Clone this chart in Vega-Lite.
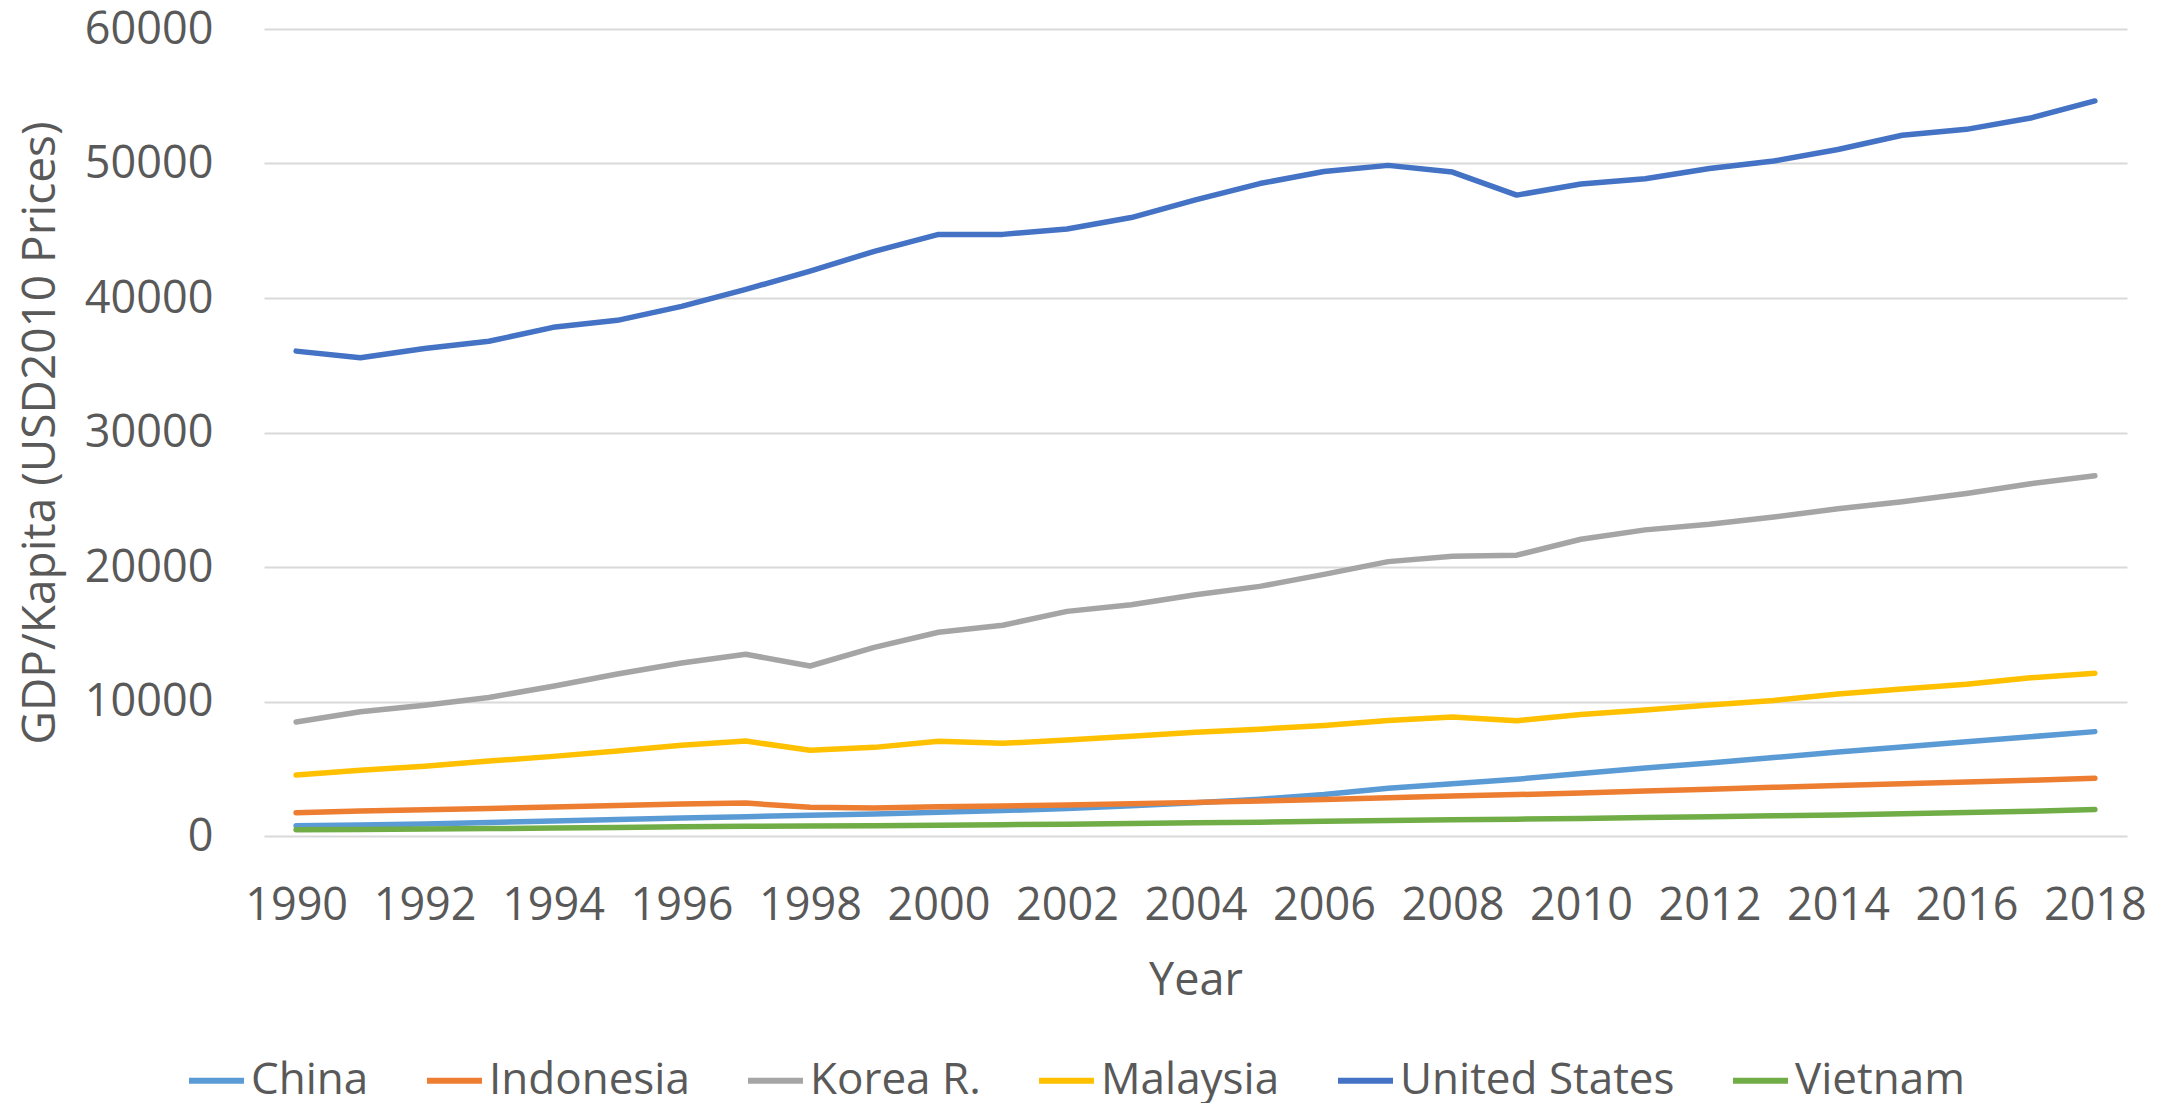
{
  "$schema": "https://vega.github.io/schema/vega-lite/v6.json",
  "width": 1863,
  "height": 807,
  "autosize": {"type": "none"},
  "padding": {"left": 264, "top": 29, "right": 46, "bottom": 267},
  "background": "white",
  "config": {"view": {"stroke": null}, "font": "Open Sans"},
  "data": {"values": [
    {"Country":"China","Year":1990,"GDP":760},{"Country":"China","Year":1991,"GDP":810},{"Country":"China","Year":1992,"GDP":900},{"Country":"China","Year":1993,"GDP":1010},{"Country":"China","Year":1994,"GDP":1110},{"Country":"China","Year":1995,"GDP":1230},{"Country":"China","Year":1996,"GDP":1330},{"Country":"China","Year":1997,"GDP":1440},{"Country":"China","Year":1998,"GDP":1540},{"Country":"China","Year":1999,"GDP":1640},{"Country":"China","Year":2000,"GDP":1760},{"Country":"China","Year":2001,"GDP":1890},{"Country":"China","Year":2002,"GDP":2050},{"Country":"China","Year":2003,"GDP":2240},{"Country":"China","Year":2004,"GDP":2480},{"Country":"China","Year":2005,"GDP":2740},{"Country":"China","Year":2006,"GDP":3080},{"Country":"China","Year":2007,"GDP":3550},{"Country":"China","Year":2008,"GDP":3880},{"Country":"China","Year":2009,"GDP":4220},{"Country":"China","Year":2010,"GDP":4640},{"Country":"China","Year":2011,"GDP":5060},{"Country":"China","Year":2012,"GDP":5430},{"Country":"China","Year":2013,"GDP":5830},{"Country":"China","Year":2014,"GDP":6240},{"Country":"China","Year":2015,"GDP":6620},{"Country":"China","Year":2016,"GDP":7000},{"Country":"China","Year":2017,"GDP":7380},{"Country":"China","Year":2018,"GDP":7760},
    {"Country":"Indonesia","Year":1990,"GDP":1735},{"Country":"Indonesia","Year":1991,"GDP":1850},{"Country":"Indonesia","Year":1992,"GDP":1950},{"Country":"Indonesia","Year":1993,"GDP":2050},{"Country":"Indonesia","Year":1994,"GDP":2160},{"Country":"Indonesia","Year":1995,"GDP":2270},{"Country":"Indonesia","Year":1996,"GDP":2380},{"Country":"Indonesia","Year":1997,"GDP":2450},{"Country":"Indonesia","Year":1998,"GDP":2130},{"Country":"Indonesia","Year":1999,"GDP":2090},{"Country":"Indonesia","Year":2000,"GDP":2170},{"Country":"Indonesia","Year":2001,"GDP":2230},{"Country":"Indonesia","Year":2002,"GDP":2300},{"Country":"Indonesia","Year":2003,"GDP":2400},{"Country":"Indonesia","Year":2004,"GDP":2500},{"Country":"Indonesia","Year":2005,"GDP":2600},{"Country":"Indonesia","Year":2006,"GDP":2720},{"Country":"Indonesia","Year":2007,"GDP":2850},{"Country":"Indonesia","Year":2008,"GDP":2980},{"Country":"Indonesia","Year":2009,"GDP":3080},{"Country":"Indonesia","Year":2010,"GDP":3200},{"Country":"Indonesia","Year":2011,"GDP":3340},{"Country":"Indonesia","Year":2012,"GDP":3480},{"Country":"Indonesia","Year":2013,"GDP":3620},{"Country":"Indonesia","Year":2014,"GDP":3750},{"Country":"Indonesia","Year":2015,"GDP":3880},{"Country":"Indonesia","Year":2016,"GDP":4020},{"Country":"Indonesia","Year":2017,"GDP":4150},{"Country":"Indonesia","Year":2018,"GDP":4290},
    {"Country":"Korea R.","Year":1990,"GDP":8480},{"Country":"Korea R.","Year":1991,"GDP":9240},{"Country":"Korea R.","Year":1992,"GDP":9720},{"Country":"Korea R.","Year":1993,"GDP":10300},{"Country":"Korea R.","Year":1994,"GDP":11140},{"Country":"Korea R.","Year":1995,"GDP":12050},{"Country":"Korea R.","Year":1996,"GDP":12860},{"Country":"Korea R.","Year":1997,"GDP":13510},{"Country":"Korea R.","Year":1998,"GDP":12640},{"Country":"Korea R.","Year":1999,"GDP":14020},{"Country":"Korea R.","Year":2000,"GDP":15150},{"Country":"Korea R.","Year":2001,"GDP":15670},{"Country":"Korea R.","Year":2002,"GDP":16700},{"Country":"Korea R.","Year":2003,"GDP":17200},{"Country":"Korea R.","Year":2004,"GDP":17940},{"Country":"Korea R.","Year":2005,"GDP":18560},{"Country":"Korea R.","Year":2006,"GDP":19450},{"Country":"Korea R.","Year":2007,"GDP":20400},{"Country":"Korea R.","Year":2008,"GDP":20800},{"Country":"Korea R.","Year":2009,"GDP":20880},{"Country":"Korea R.","Year":2010,"GDP":22060},{"Country":"Korea R.","Year":2011,"GDP":22760},{"Country":"Korea R.","Year":2012,"GDP":23180},{"Country":"Korea R.","Year":2013,"GDP":23710},{"Country":"Korea R.","Year":2014,"GDP":24330},{"Country":"Korea R.","Year":2015,"GDP":24850},{"Country":"Korea R.","Year":2016,"GDP":25470},{"Country":"Korea R.","Year":2017,"GDP":26190},{"Country":"Korea R.","Year":2018,"GDP":26780},
    {"Country":"Malaysia","Year":1990,"GDP":4540},{"Country":"Malaysia","Year":1991,"GDP":4880},{"Country":"Malaysia","Year":1992,"GDP":5180},{"Country":"Malaysia","Year":1993,"GDP":5570},{"Country":"Malaysia","Year":1994,"GDP":5920},{"Country":"Malaysia","Year":1995,"GDP":6320},{"Country":"Malaysia","Year":1996,"GDP":6740},{"Country":"Malaysia","Year":1997,"GDP":7060},{"Country":"Malaysia","Year":1998,"GDP":6370},{"Country":"Malaysia","Year":1999,"GDP":6590},{"Country":"Malaysia","Year":2000,"GDP":7040},{"Country":"Malaysia","Year":2001,"GDP":6890},{"Country":"Malaysia","Year":2002,"GDP":7130},{"Country":"Malaysia","Year":2003,"GDP":7420},{"Country":"Malaysia","Year":2004,"GDP":7720},{"Country":"Malaysia","Year":2005,"GDP":7940},{"Country":"Malaysia","Year":2006,"GDP":8220},{"Country":"Malaysia","Year":2007,"GDP":8580},{"Country":"Malaysia","Year":2008,"GDP":8850},{"Country":"Malaysia","Year":2009,"GDP":8570},{"Country":"Malaysia","Year":2010,"GDP":9040},{"Country":"Malaysia","Year":2011,"GDP":9360},{"Country":"Malaysia","Year":2012,"GDP":9740},{"Country":"Malaysia","Year":2013,"GDP":10080},{"Country":"Malaysia","Year":2014,"GDP":10550},{"Country":"Malaysia","Year":2015,"GDP":10930},{"Country":"Malaysia","Year":2016,"GDP":11280},{"Country":"Malaysia","Year":2017,"GDP":11760},{"Country":"Malaysia","Year":2018,"GDP":12100},
    {"Country":"United States","Year":1990,"GDP":36050},{"Country":"United States","Year":1991,"GDP":35560},{"Country":"United States","Year":1992,"GDP":36250},{"Country":"United States","Year":1993,"GDP":36780},{"Country":"United States","Year":1994,"GDP":37820},{"Country":"United States","Year":1995,"GDP":38340},{"Country":"United States","Year":1996,"GDP":39380},{"Country":"United States","Year":1997,"GDP":40640},{"Country":"United States","Year":1998,"GDP":42000},{"Country":"United States","Year":1999,"GDP":43470},{"Country":"United States","Year":2000,"GDP":44730},{"Country":"United States","Year":2001,"GDP":44730},{"Country":"United States","Year":2002,"GDP":45130},{"Country":"United States","Year":2003,"GDP":45980},{"Country":"United States","Year":2004,"GDP":47290},{"Country":"United States","Year":2005,"GDP":48510},{"Country":"United States","Year":2006,"GDP":49400},{"Country":"United States","Year":2007,"GDP":49860},{"Country":"United States","Year":2008,"GDP":49360},{"Country":"United States","Year":2009,"GDP":47650},{"Country":"United States","Year":2010,"GDP":48470},{"Country":"United States","Year":2011,"GDP":48860},{"Country":"United States","Year":2012,"GDP":49630},{"Country":"United States","Year":2013,"GDP":50180},{"Country":"United States","Year":2014,"GDP":51040},{"Country":"United States","Year":2015,"GDP":52100},{"Country":"United States","Year":2016,"GDP":52540},{"Country":"United States","Year":2017,"GDP":53380},{"Country":"United States","Year":2018,"GDP":54650},
    {"Country":"Vietnam","Year":1990,"GDP":470},{"Country":"Vietnam","Year":1991,"GDP":490},{"Country":"Vietnam","Year":1992,"GDP":520},{"Country":"Vietnam","Year":1993,"GDP":550},{"Country":"Vietnam","Year":1994,"GDP":590},{"Country":"Vietnam","Year":1995,"GDP":630},{"Country":"Vietnam","Year":1996,"GDP":680},{"Country":"Vietnam","Year":1997,"GDP":720},{"Country":"Vietnam","Year":1998,"GDP":745},{"Country":"Vietnam","Year":1999,"GDP":770},{"Country":"Vietnam","Year":2000,"GDP":800},{"Country":"Vietnam","Year":2001,"GDP":840},{"Country":"Vietnam","Year":2002,"GDP":880},{"Country":"Vietnam","Year":2003,"GDP":930},{"Country":"Vietnam","Year":2004,"GDP":980},{"Country":"Vietnam","Year":2005,"GDP":1030},{"Country":"Vietnam","Year":2006,"GDP":1090},{"Country":"Vietnam","Year":2007,"GDP":1150},{"Country":"Vietnam","Year":2008,"GDP":1200},{"Country":"Vietnam","Year":2009,"GDP":1250},{"Country":"Vietnam","Year":2010,"GDP":1310},{"Country":"Vietnam","Year":2011,"GDP":1370},{"Country":"Vietnam","Year":2012,"GDP":1430},{"Country":"Vietnam","Year":2013,"GDP":1500},{"Country":"Vietnam","Year":2014,"GDP":1570},{"Country":"Vietnam","Year":2015,"GDP":1650},{"Country":"Vietnam","Year":2016,"GDP":1740},{"Country":"Vietnam","Year":2017,"GDP":1840},{"Country":"Vietnam","Year":2018,"GDP":1970}
  ]},
  "mark": {"type": "line", "strokeWidth": 5.5, "strokeCap": "round", "strokeJoin": "round"},
  "encoding": {
    "x": {
      "field": "Year", "type": "quantitative",
      "scale": {"domain": [1989.5, 2018.5], "nice": false, "zero": false},
      "axis": {
        "values": [1990,1992,1994,1996,1998,2000,2002,2004,2006,2008,2010,2012,2014,2016,2018],
        "format": "d", "grid": false, "domain": false, "ticks": false, "tickSize": 0,
        "labelPadding": 47, "labelFontSize": 45, "labelColor": "#595959", "labelFlush": false, "labelOverlap": false,
        "title": "Year", "titleFontSize": 45, "titleColor": "#595959", "titleFontWeight": "normal", "titlePadding": 30
      }
    },
    "y": {
      "field": "GDP", "type": "quantitative",
      "scale": {"domain": [0, 60000], "nice": false},
      "axis": {
        "values": [0,10000,20000,30000,40000,50000,60000],
        "format": "d", "grid": true, "gridColor": "#D9D9D9", "gridWidth": 2,
        "domain": false, "ticks": false, "tickSize": 0,
        "labelPadding": 51, "labelFontSize": 45, "labelColor": "#595959", "labelFlush": false,
        "title": "GDP/Kapita (USD2010 Prices)", "titleFontSize": 46, "titleColor": "#595959", "titleFontWeight": "normal", "titlePadding": 20
      }
    },
    "color": {
      "field": "Country", "type": "nominal",
      "scale": {
        "domain": ["China","Indonesia","Korea R.","Malaysia","United States","Vietnam"],
        "range": ["#5B9BD5","#ED7D31","#A5A5A5","#FFC000","#4472C4","#70AD47"]
      },
      "legend": {
        "orient": "none", "direction": "horizontal", "columns": 6,
        "legendX": -78, "legendY": 1021, "title": null,
        "symbolType": "stroke", "symbolSize": 3025, "symbolStrokeWidth": 6,
        "labelFontSize": 44, "labelColor": "#595959", "labelOffset": 4, "columnPadding": 46,
        "padding": 0, "labelLimit": 400
      }
    }
  }
}
